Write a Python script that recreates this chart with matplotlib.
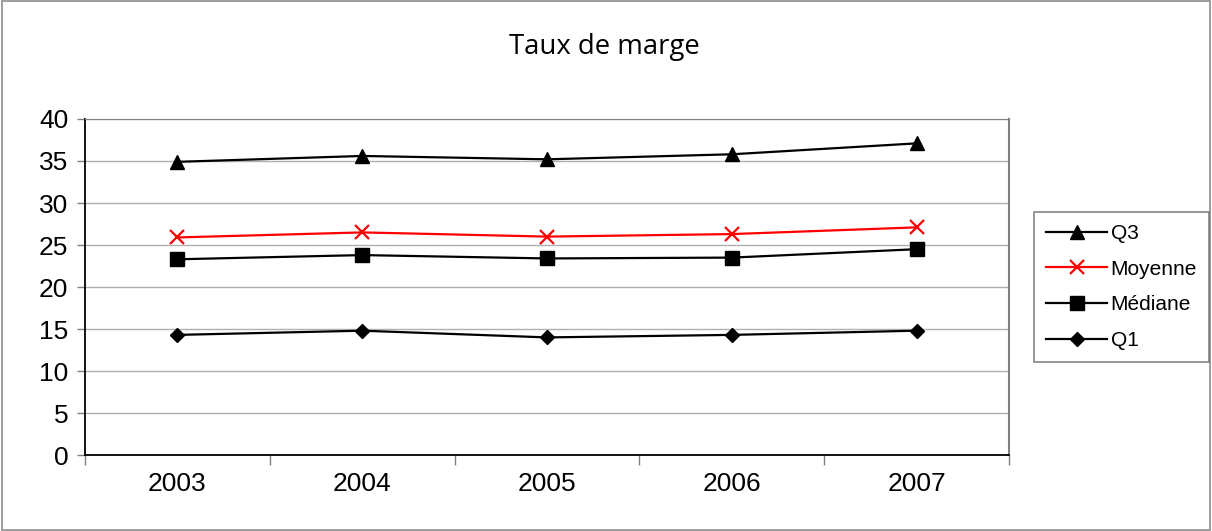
import numpy as np, matplotlib
matplotlib.use('Agg')
import matplotlib.pyplot as plt
from matplotlib.patches import Rectangle

plt.rcParams['font.family'] = ['Liberation Sans', 'DejaVu Sans']

years = ['2003', '2004', '2005', '2006', '2007']
q3 = [34.9, 35.6, 35.2, 35.8, 37.1]
moyenne = [25.9, 26.5, 26.0, 26.3, 27.1]
mediane = [23.3, 23.8, 23.4, 23.5, 24.5]
q1 = [14.3, 14.8, 14.0, 14.3, 14.8]

fig = plt.figure(figsize=(12.12, 5.31), dpi=100)
fig.patches.append(Rectangle((0.002, 0.002), 0.996, 0.996, transform=fig.transFigure,
                             fill=False, edgecolor='#8c8c8c', lw=1.2))
ax = fig.add_axes([0.0701, 0.1431, 0.7624, 0.6328])
x = np.arange(len(years))
ax.plot(x, q3, color='black', lw=1.6, marker='^', ms=10, label='Q3')
ax.plot(x, moyenne, color='#ff0000', lw=1.6, marker='x', ms=10, mew=1.6, label='Moyenne')
ax.plot(x, mediane, color='black', lw=1.6, marker='s', ms=9.5, label='Médiane')
ax.plot(x, q1, color='black', lw=1.6, marker='D', ms=7.5, label='Q1')

ax.set_xlim(-0.5, len(years) - 0.5)
ax.set_ylim(0, 40)
ax.set_yticks(np.arange(0, 41, 5))
ax.set_xticks(np.arange(-0.5, len(years), 1))
ax.set_xticklabels([])
ax.set_xticks(x, minor=True)
ax.set_xticklabels(years, minor=True)
ax.tick_params(axis='x', which='minor', length=0, pad=12, labelsize=19)
ax.tick_params(axis='x', which='major', length=7, width=1, color='#808080')
ax.tick_params(axis='y', length=6, width=1, color='#808080', labelsize=19, pad=6)
ax.yaxis.grid(True, color='#b0b0b0', lw=1)
ax.set_axisbelow(True)
ax.spines['left'].set_color('black')
ax.spines['bottom'].set_color('black')
ax.spines['left'].set_linewidth(1.3)
ax.spines['bottom'].set_linewidth(1.3)
ax.spines['top'].set_color('#808080')
ax.spines['right'].set_color('#808080')
ax.spines['right'].set_linewidth(1.5)

fig.text(0.4985, 0.912, 'Taux de marge', ha='center', va='center', fontsize=19.8, family='Open Sans')

leg = fig.legend(loc='upper left', bbox_to_anchor=(0.853, 0.601), fontsize=15, frameon=True,
                 fancybox=False, edgecolor='#666666', handlelength=2.95, handletextpad=0.15,
                 labelspacing=0.8, borderpad=0.58, borderaxespad=0)
leg.get_frame().set_linewidth(1.2)

fig.savefig('out.png', dpi=100)
